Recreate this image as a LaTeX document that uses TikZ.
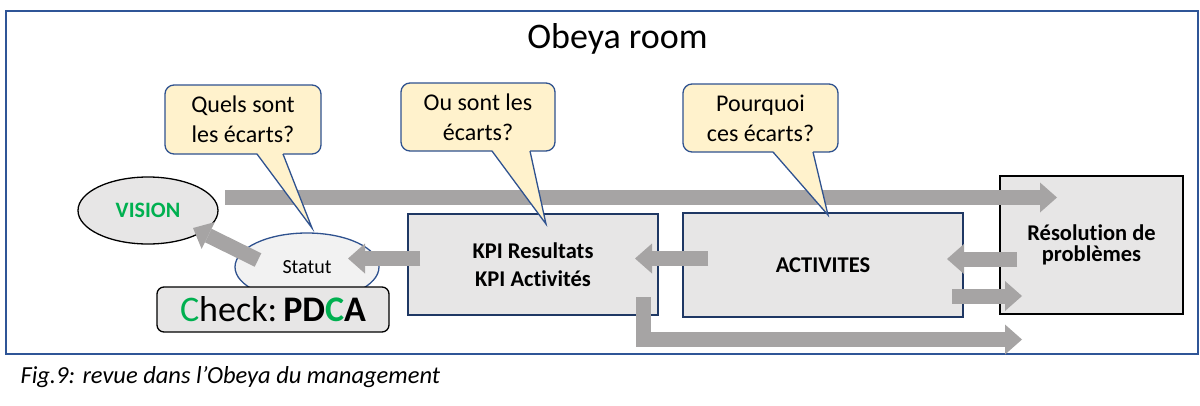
\documentclass[tikz,border=0pt]{standalone}
\usepackage{fontspec}
\setmainfont{Carlito}[Ligatures=NoCommon]
\usetikzlibrary{arrows.meta,shapes.geometric}
\definecolor{frameblue}{RGB}{47,85,151}
\definecolor{callfill}{RGB}{255,242,204}
\definecolor{callline}{RGB}{47,82,143}
\definecolor{arrowgray}{RGB}{166,164,164}
\definecolor{boxfill}{RGB}{231,230,230}
\definecolor{statfill}{RGB}{242,242,242}
\definecolor{boxline}{RGB}{31,56,100}
\definecolor{visgreen}{RGB}{0,176,80}
\begin{document}
\begin{tikzpicture}[x=1pt,y=-1pt,
  callbox/.style={draw=callline, fill=callfill, line width=1.3pt, rounded corners=9pt,
    inner sep=0pt, align=center, font=\fontsize{24}{30}\selectfont},
  pointerfill/.style={fill=callfill},
  pointerline/.style={draw=callline, line width=1.3pt, line join=miter},
  grayarrow/.style={draw=arrowgray, line width=15pt, line join=miter,
    -{Triangle[length=17pt,width=30pt,line width=0pt]}},
  bluebox/.style={draw=boxline, fill=boxfill, line width=1.3pt, inner sep=0pt, align=center,
    font=\fontsize{22.5}{28}\selectfont\bfseries},
  blackbox/.style={draw=black, fill=boxfill, line width=1.3pt, inner sep=0pt, align=center,
    font=\fontsize{22.5}{21}\selectfont\bfseries},
]
\useasboundingbox (0,0) rectangle (1200,405);
% frame
\draw[frameblue, line width=2pt] (6,11) rectangle (1198,354);
\node[anchor=base, font=\fontsize{36}{40}\selectfont] (title) at (617.5,48) {Obeya room};
\node[anchor=base west, font=\fontsize{24.5}{28}\selectfont\itshape] (caption) at (17,383)
  {Fig.9: revue dans l’Obeya du management};

% boxes
\node[bluebox, minimum width=250pt, minimum height=101pt] (kpi) at (533,264.5)
  {KPI Resultats\\KPI Activités};
\node[bluebox, minimum width=280pt, minimum height=104pt] (act) at (823,265) {ACTIVITES};
\node[blackbox, minimum width=183pt, minimum height=138pt] (res) at (1091.5,245)
  {Résolution de\\problèmes};

% ellipses
\node[ellipse, draw=black, fill=boxfill, line width=1.3pt, minimum width=140pt,
  minimum height=67pt, inner sep=0pt, text=visgreen, font=\fontsize{22}{26}\selectfont\bfseries]
  (vision) at (148,210.5) {VISION};
\node[ellipse, draw=callline, fill=statfill, line width=1.3pt, minimum width=144pt,
  minimum height=68pt, inner sep=0pt, font=\fontsize{20}{24}\selectfont]
  (statut) at (307,267) {Statut};
\node[draw=black, fill=boxfill, line width=1.3pt, rounded corners=7pt, minimum width=232pt,
  minimum height=45pt, inner sep=0pt, font=\fontsize{36}{40}\selectfont]
  (check) at (273,309.5) {{\color{visgreen}C}heck:\,\textbf{PD{\color{visgreen}C}A}};

% arrow end points
\coordinate (topS) at (225,197.5);
\coordinate (topE) at (1057,197.5);
\coordinate (akS) at (708,258.5);
\coordinate (akE) at (635,258.5);
\coordinate (ksS) at (420,258.5);
\coordinate (ksE) at (348,258.5);
\coordinate (svS) at (258,260);
\coordinate (svE) at (193,228);
\coordinate (raS) at (1017,259);
\coordinate (raE) at (947,259);
\coordinate (arS) at (952,296);
\coordinate (arE) at (1022,296);
\coordinate (bS) at (643.5,297);
\coordinate (bM) at (643.5,339.5);
\coordinate (bE) at (1022,339.5);

\draw[grayarrow] (topS) -- (topE);
\draw[grayarrow] (akS) -- (akE);
\draw[grayarrow] (ksS) -- (ksE);
\draw[grayarrow] (svS) -- (svE);
\draw[grayarrow] (raS) -- (raE);
\draw[grayarrow] (arS) -- (arE);
\draw[grayarrow] (bS) -- (bM) -- (bE);

% callouts
\node[callbox, minimum width=156pt, minimum height=69pt] (c1) at (243,119.5)
  {Quels sont\\les écarts?};
\node[callbox, minimum width=154pt, minimum height=68pt] (c2) at (478,117)
  {Ou sont les\\écarts?};
\node[callbox, minimum width=155pt, minimum height=68pt] (c3) at (760.5,118)
  {Pourquoi\\ces écarts?};
\coordinate (t1) at (312,228);
\coordinate (t2) at (546,224);
\coordinate (t3) at (828,215);
\fill[pointerfill] (257,153) -- (t1) -- (283,153) -- cycle;
\draw[pointerline] (257,154) -- (t1) -- (283,154);
\fill[pointerfill] (492,150) -- (t2) -- (530,150) -- cycle;
\draw[pointerline] (492,151) -- (t2) -- (530,151);
\fill[pointerfill] (773,151) -- (t3) -- (813,151) -- cycle;
\draw[pointerline] (773,152) -- (t3) -- (813,152);
\end{tikzpicture}
\end{document}
